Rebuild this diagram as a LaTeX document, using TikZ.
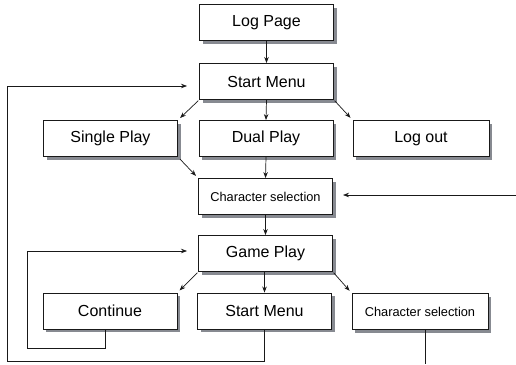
\documentclass[tikz,border=0pt]{standalone}
\usepackage{fontspec}
\setmainfont{Liberation Sans}
\usetikzlibrary{arrows.meta}
\definecolor{shc}{RGB}{135,138,145}
\definecolor{lnc}{RGB}{25,25,25}
\begin{document}
\begin{tikzpicture}[x=1pt,y=-1pt,
  box/.style={draw=lnc, line width=0.9pt, fill=white, minimum width=134pt, minimum height=36pt,
    inner sep=0pt, font=\fontsize{16}{19}\selectfont},
  smallbox/.style={box, font=\fontsize{12.8}{15}\selectfont},
  conn/.style={draw=lnc, line width=0.7pt},
  arr/.style={conn, -{Stealth[length=6pt,width=4.5pt]}},
  shbox/.style={fill=shc, minimum width=134pt, minimum height=36pt, inner sep=0pt},
  wideshbox/.style={shbox, minimum width=136pt}
]
\useasboundingbox (0,0) rectangle (516,364);

% shadows
\node[shbox] (logsh) at (269.5,25.5) {};
\node[shbox] (sm1sh) at (269.5,84.5) {};
\node[shbox] (singlesh) at (113.5,141.5) {};
\node[shbox] (dualsh) at (269,141.5) {};
\node[wideshbox] (logoutsh) at (424,141.5) {};
\node[shbox] (cs1sh) at (268.5,199.5) {};
\node[shbox] (gpsh) at (268.5,256.5) {};
\node[shbox] (contsh) at (113,314) {};
\node[shbox] (sm2sh) at (267.5,314) {};
\node[wideshbox] (cs2sh) at (423,314.5) {};

% boxes
\node[box] (log) at (266.5,22.5) {Log Page};
\node[box] (sm1) at (266.5,81.5) {Start Menu};
\node[box] (single) at (110.5,138.5) {Single Play};
\node[box] (dual) at (266,138.5) {Dual Play};
\node[box, minimum width=136pt] (logout) at (421,138.5) {Log out};
\node[smallbox] (cs1) at (265.5,196.5) {Character selection};
\node[box] (gp) at (265.5,253.5) {Game Play};
\node[box] (cont) at (110,311) {Continue};
\node[box] (sm2) at (264.5,311) {Start Menu};
\node[smallbox, minimum width=136pt] (cs2) at (420,311.5) {Character selection};

% vertical arrows
\draw[arr] (log.south) -- (sm1.north);
\draw[arr] (sm1.south) -- (dual.north);
\draw[arr] (dual.south) -- (cs1.north);
\draw[arr] (cs1.south) -- (gp.north);
\draw[arr] (gp.south -| sm2.north) -- (sm2.north);

% diagonal arrows
\draw[arr, shorten <=1pt, shorten >=3pt] (sm1.south west) -- (single.north east);
\draw[arr, shorten <=1pt, shorten >=3pt] (sm1.south east) -- (logout.north west);
\draw[arr, shorten <=3pt, shorten >=3pt] (single.south east) -- (cs1.north west);
\draw[arr, shorten <=1pt, shorten >=3pt] (gp.south west) -- (cont.north east);
\draw[arr, shorten <=1pt, shorten >=3pt] (gp.south east) -- (cs2.north west);

% loops
\coordinate (a1) at (187,86);
\draw[arr] (sm2.south) -- (264.5,361) -- (7,361) -- (7,86) -- (a1);
\coordinate (a2) at (187,251);
\draw[arr] (cont.south -| 105,0) -- (105,348) -- (27,348) -- (27,251) -- (a2);

% cropped connectors
\coordinate (rs) at (516,195);
\coordinate (re) at (343,195);
\draw[arr] (rs) -- (re);
\coordinate (cb) at (425,364);
\draw[conn] (cs2.south -| cb) -- (cb);
\end{tikzpicture}
\end{document}
